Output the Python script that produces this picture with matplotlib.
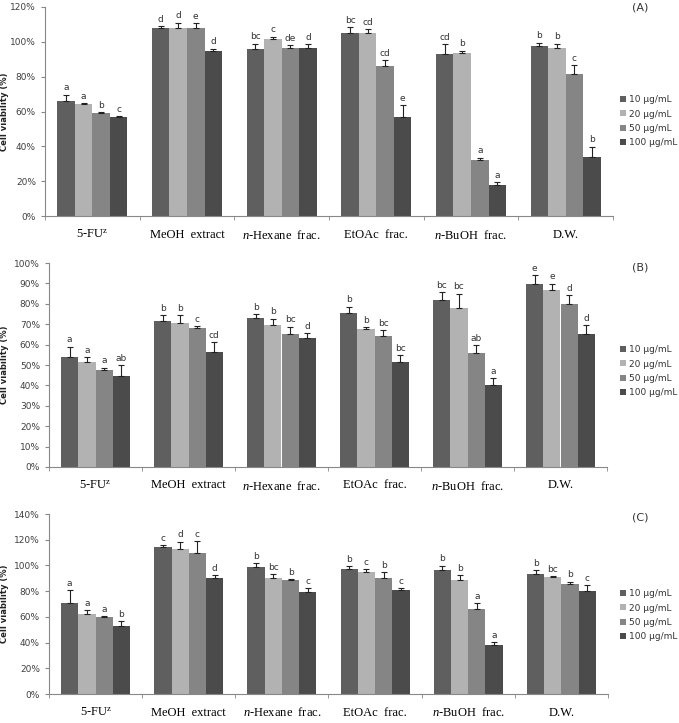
import numpy as np
import matplotlib.pyplot as plt
from matplotlib.ticker import PercentFormatter

plt.rcParams['mathtext.fontset'] = 'custom'
plt.rcParams['mathtext.rm'] = 'Liberation Serif'
plt.rcParams['mathtext.it'] = 'Liberation Serif:italic'

# категории и серии
groups = ['5-FU$^\\mathrm{z}$', 'MeOH  extract', '$n$-Hexane  frac.', 'EtOAc  frac.', '$n$-BuOH  frac.', 'D.W.']
series = ['10 µg/mL', '20 µg/mL', '50 µg/mL', '100 µg/mL']
colors = ['#5f5f5f', '#b2b2b2', '#858585', '#4b4b4b']

# панель A
a_vals = [[66.1, 108.0, 96.0, 105.3, 93.0, 97.7],
          [64.2, 108.0, 101.5, 105.3, 93.7, 96.4],
          [59.0, 108.0, 96.6, 86.1, 32.2, 81.5],
          [56.8, 94.9, 96.4, 57.1, 17.9, 33.9]]
a_err = [[3.5, 1.0, 2.9, 3.2, 5.7, 1.9],
         [0.5, 3.0, 1.3, 1.9, 1.1, 2.5],
         [0.7, 2.8, 1.3, 3.4, 1.3, 5.0],
         [0.4, 1.1, 2.3, 6.5, 1.5, 6.0]]
a_let = [['a', 'd', 'bc', 'bc', 'cd', 'b'],
         ['a', 'd', 'c', 'cd', 'b', 'b'],
         ['b', 'e', 'de', 'cd', 'a', 'c'],
         ['c', 'd', 'd', 'e', 'a', 'b']]

# панель B
b_vals = [[53.9, 71.7, 73.0, 75.6, 81.9, 89.9],
          [51.5, 70.8, 69.7, 67.6, 78.0, 86.6],
          [47.4, 67.9, 65.0, 64.2, 55.7, 80.1],
          [44.8, 56.5, 63.0, 51.6, 40.2, 65.0]]
b_err = [[5.0, 2.8, 1.8, 2.9, 3.9, 4.0],
         [2.3, 3.6, 3.0, 1.0, 7.0, 3.3],
         [1.3, 1.1, 3.7, 2.9, 4.0, 4.0],
         [5.2, 4.6, 2.5, 3.3, 3.3, 4.6]]
b_let = [['a', 'b', 'b', 'b', 'bc', 'e'],
         ['a', 'b', 'b', 'b', 'bc', 'e'],
         ['a', 'c', 'bc', 'bc', 'ab', 'd'],
         ['ab', 'cd', 'd', 'bc', 'a', 'd']]

# панель C
c_vals = [[71.0, 114.2, 98.4, 97.1, 96.3, 93.7],
          [61.9, 112.9, 90.6, 94.7, 88.5, 91.1],
          [59.6, 110.0, 89.0, 90.3, 65.8, 85.6],
          [52.6, 90.6, 79.4, 81.2, 38.5, 79.9]]
c_err = [[10.0, 1.8, 3.4, 2.1, 3.6, 2.6],
         [3.4, 5.7, 2.6, 2.3, 4.2, 0.5],
         [1.0, 9.0, 0.5, 4.4, 4.7, 1.8],
         [4.2, 2.1, 2.9, 1.0, 2.1, 4.9]]
c_let = [['a', 'c', 'b', 'b', 'b', 'b'],
         ['a', 'd', 'bc', 'c', 'b', 'bc'],
         ['a', 'c', 'b', 'b', 'a', 'b'],
         ['b', 'd', 'c', 'c', 'a', 'c']]

W, H = 679, 723
fig = plt.figure(figsize=(W / 100, H / 100), dpi=100)


def px_axes(left, right, bottom, top):
    return fig.add_axes([left / W, 1 - bottom / H, (right - left) / W, (bottom - top) / H])


def draw_panel(ax, vals, errs, lets, ymax, ystep, tag, tag_y, leg_y):
    x = np.arange(len(groups))
    bw = 0.185
    for i in range(4):
        pos = x + (i - 1.5) * bw
        v = np.array(vals[i])
        e = np.array(errs[i])
        ax.bar(pos, v, width=bw, color=colors[i], label=series[i], zorder=2)
        ax.errorbar(pos, v, yerr=[np.zeros_like(e), e], fmt='none', ecolor='#222222',
                    elinewidth=0.8, capsize=2.2, capthick=0.8, zorder=3)
        for p, vv, ee, t in zip(pos, v, e, lets[i]):
            ax.text(p, vv + ee + ymax * 0.012, t, ha='center', va='bottom',
                    fontsize=6.5, color='#333333', zorder=4)

    ax.set_xlim(-0.5, len(groups) - 0.5)
    ax.set_ylim(0, ymax)
    ax.set_yticks(np.arange(0, ymax + 0.1, ystep))
    ax.yaxis.set_major_formatter(PercentFormatter(decimals=0))
    ax.set_xticks(x)
    ax.set_xticklabels(groups, fontsize=9, family='Liberation Serif')
    ax.set_xticks(np.arange(-0.5, len(groups)), minor=True)
    ax.tick_params(axis='x', which='major', length=0, pad=9)
    ax.tick_params(axis='x', which='minor', length=3, color='#888888')
    ax.tick_params(axis='y', length=3, color='#888888', labelsize=6.5, labelcolor='#404040')
    for s in ['top', 'right']:
        ax.spines[s].set_visible(False)
    for s in ['left', 'bottom']:
        ax.spines[s].set_color('#888888')
        ax.spines[s].set_linewidth(0.8)
    ax.set_ylabel('Cell viability (%)', fontsize=6, fontweight='bold', color='#222222')
    left_px = ax.get_position().x0 * W
    ax.yaxis.set_label_coords(-(left_px - 9) / (ax.get_position().width * W), 0.5)

    fig.text(640 / W, 1 - tag_y / H, tag, ha='center', va='center', fontsize=8, color='#333333')
    ax.legend(loc='upper left', bbox_to_anchor=(612 / W, 1 - leg_y / H),
              bbox_transform=fig.transFigure, frameon=False, fontsize=6.5,
              handlelength=0.6, handleheight=0.6, handletextpad=0.4,
              labelspacing=0.6, labelcolor='#333333')


axA = px_axes(45, 613, 216, 7)
draw_panel(axA, a_vals, a_err, a_let, 120, 20, '(A)', 8, 87)

axB = px_axes(49, 607, 467, 263)
draw_panel(axB, b_vals, b_err, b_let, 100, 10, '(B)', 268, 337)

axC = px_axes(49, 608, 694, 514)
draw_panel(axC, c_vals, c_err, c_let, 140, 20, '(C)', 518, 581)

fig.savefig('out.png', dpi=100)
